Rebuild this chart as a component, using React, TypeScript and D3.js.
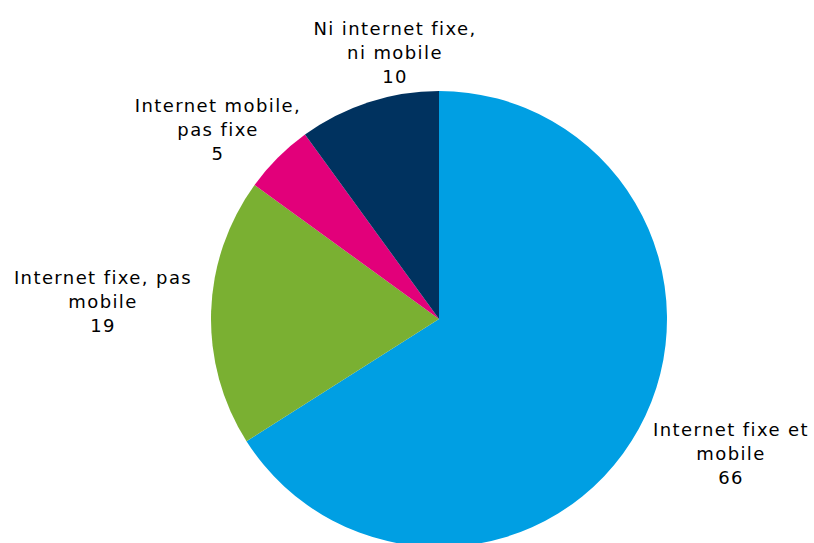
import React, { useEffect, useRef } from 'react';
import * as d3 from 'd3';

// pie order: clockwise from 12 o'clock
const categories = [
    'Internet fixe et mobile',
    'Internet fixe, pas mobile',
    'Internet mobile, pas fixe',
    'Ni internet fixe, ni mobile',
];
const values = [66, 19, 5, 10];
const labelLines = [
    ['Internet fixe et', 'mobile'],
    ['Internet fixe, pas', 'mobile'],
    ['Internet mobile,', 'pas fixe'],
    ['Ni internet fixe,', 'ni mobile'],
];
const colors = ['#009FE3', '#7AB032', '#E2007A', '#00325F'];

// label block centres, relative to the pie centre (Excel best-fit placement)
const labelOffsets: [number, number][] = [
    [292, 135],
    [-336, -17],
    [-221, -189],
    [-44, -266],
];

interface Slice {
    name: string;
    value: number;
    lines: string[];
    color: string;
}

const App: React.FC = () => {
    const svgRef = useRef<SVGSVGElement | null>(null);

    useEffect(() => {
        if (!svgRef.current) return;
        const width = 814;
        const height = 543;
        const cx = 439;
        const cy = 319;
        const radius = 228;

        const data: Slice[] = categories.map((c, i) => ({
            name: c,
            value: values[i],
            lines: labelLines[i],
            color: colors[i],
        }));

        const svg = d3.select(svgRef.current);
        svg.selectAll('*').remove();
        svg.attr('width', width).attr('height', height);

        const pie = d3.pie<Slice>().value((d) => d.value).sort(null);
        const arc = d3.arc<d3.PieArcDatum<Slice>>().innerRadius(0).outerRadius(radius);

        const g = svg.append('g').attr('transform', `translate(${cx},${cy})`);

        g.selectAll('path')
            .data(pie(data))
            .enter()
            .append('path')
            .attr('d', arc)
            .attr('fill', (d) => d.data.color);

        // Verdana isn't installed; DejaVu Sans + a bit of letter spacing gets close to its width
        const labels = g.selectAll('text.label')
            .data(pie(data))
            .enter()
            .append('text')
            .attr('class', 'label')
            .attr('text-anchor', 'middle')
            .attr('font-family', 'Verdana, "DejaVu Sans", sans-serif')
            .attr('font-size', 18)
            .attr('letter-spacing', 1.4)
            .attr('fill', '#000')
            .attr('transform', (d, i) => `translate(${labelOffsets[i][0]},${labelOffsets[i][1]})`);

        labels.each(function (d) {
            const t = d3.select(this);
            const lines = [...d.data.lines, String(d.data.value)];
            lines.forEach((line, k) => {
                t.append('tspan')
                    .attr('x', 0)
                    .attr('y', (k - 1) * 24 + 6)
                    .text(line);
            });
        });
    }, []);

    return (
        <svg ref={svgRef} style={{ position: 'absolute', left: 0, top: 0, background: '#fff' }}></svg>
    );
};

export default App;
